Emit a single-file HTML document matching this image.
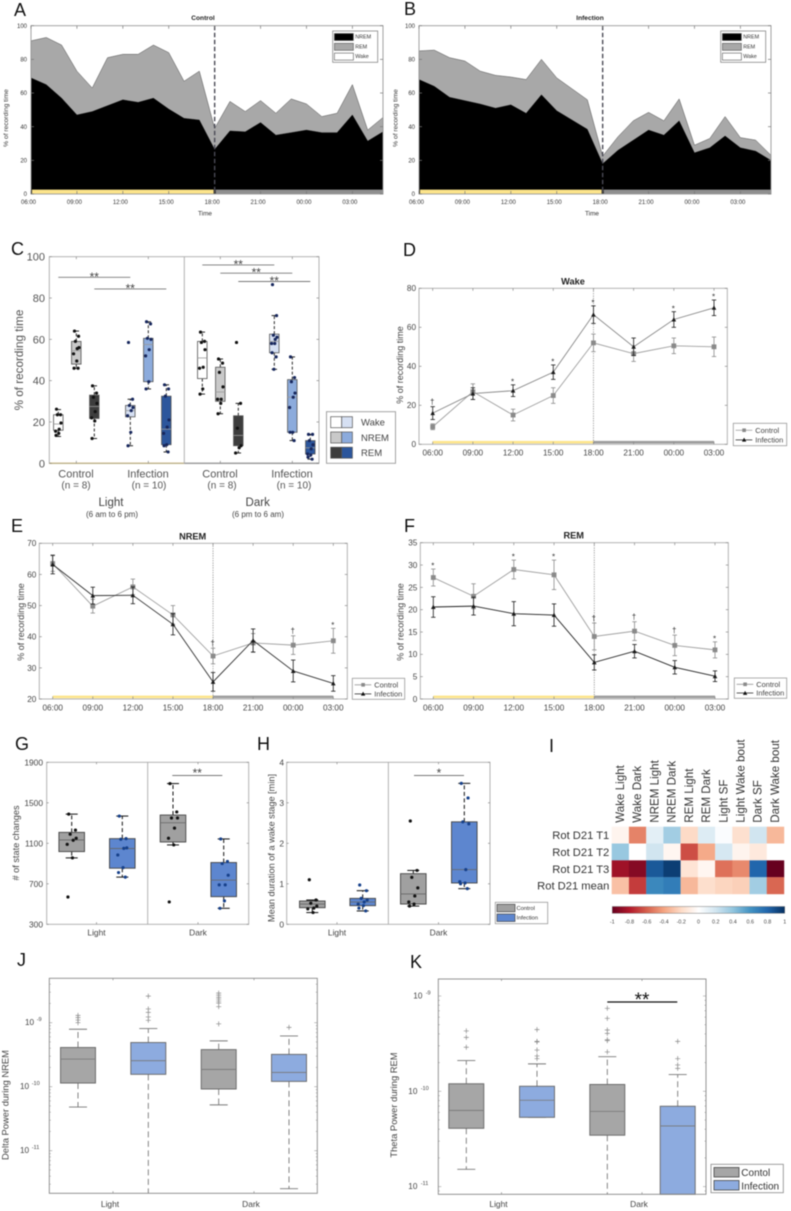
<!DOCTYPE html>
<html lang="en">
<head>
<meta charset="utf-8">
<title>Sleep state figure</title>
<style>
html,body{margin:0;padding:0;background:#fff;}
#figure{display:block;width:791px;height:1211px;filter:blur(0.5px);}
text{font-family:"Liberation Sans",Arial,sans-serif;}
.letter{font-size:18px;fill:#111;}
</style>
</head>
<body>
<svg id="figure" xmlns="http://www.w3.org/2000/svg" width="791" height="1211" viewBox="0 0 791 1211">
<rect width="791" height="1211" fill="#fff"/>
<g id="charts"></g>
<text class="letter" x="14" y="16">A</text>
<text class="letter" x="404" y="15">B</text>
<text class="letter" x="11" y="255">C</text>
<text class="letter" x="403" y="256">D</text>
<text class="letter" x="11" y="532">E</text>
<text class="letter" x="404" y="532">F</text>
<text class="letter" x="15" y="750">G</text>
<text class="letter" x="257" y="750">H</text>
<text class="letter" x="549" y="752">I</text>
<text class="letter" x="17" y="966">J</text>
<text class="letter" x="410" y="968">K</text>
</svg>
<script>
/* ---------- Panel A / B: hourly stacked areas ---------- */
const areaTickLabels = ['06:00','09:00','12:00','15:00','18:00','21:00','00:00','03:00'];
const areaYTicks = [0,20,40,60,80,100];
const aNrem = [69,65,57,47,49,52.5,56,54.5,57,50.5,45,44,26.5,37.5,37,42.5,35,36.5,38,36.5,36.5,47,31.5,37];
const aRem  = [22,28,31.5,26,14,28.5,27,28.5,31.5,33.5,22,29,12.5,17.5,12,13,13,20,15.5,9.5,11.5,18,6.5,8.5];
const bNrem = [68,64,57.5,55.5,53.5,51,53,48,59,49.5,44,38.5,18,26,32,38,35,43.5,24.5,27.5,34.5,27.5,25.5,20];
const bRem  = [17,21.5,23.5,23.5,19.5,19.5,16.5,20,21,19.5,18.5,17.5,4.5,8,11.5,10.5,8.5,13,4.5,5.5,11.5,6,6.5,3];

/* ---------- Panel C: box plots ---------- */
const cLabels = ['Light control wake','Light control NREM','Light control REM','Light infection wake','Light infection NREM','Light infection REM','Dark control wake','Dark control NREM','Dark control REM','Dark infection wake','Dark infection NREM','Dark infection REM'];
const cSlots = [0,1,2,4,5,6,8,9,10,12,13,14];
const cQ1  = [16,48,21.7,22.5,39.5,9,41,30,8.5,53.5,15,4.5];
const cMed = [19,54.5,27.5,25.5,57.5,16.5,51,34.5,13.5,59,32,7.5];
const cQ3  = [23.5,59,33,28,60.5,32.5,59,46.5,23,62.5,40.5,11];
const cLo  = [13,46,12,8.5,36,5.5,33.5,24,5,45.5,11,2];
const cHi  = [26,64,37.5,31,68.5,38,63.5,50.5,29,71.5,51.5,14];
const cPoints = [
 [26.2,23.5,23.5,19.5,16.5,15.5,14.5,13.5],
 [64,61.5,59,56,55.5,53,49.5,46,46],
 [37.5,34,32,29,25,22,20.5,12],
 [58.5,31,28,27,25.5,23,15,8.5],
 [68.5,67.5,60.5,60,55,52,39.5,36],
 [38,36,32.5,21,17.5,14.5,9,8.5,5.5],
 [63.5,59,58.5,55,46.5,46,36,33.5],
 [50.5,48.5,44,37,31,31,29,24],
 [58.5,29,17,8.5,7.5,5],
 [86.5,71.5,62,61,60,58,58,53.5,51.5,45.5],
 [51.5,41.5,39.5,34,32,27,15,15,11],
 [14,14,11,9,7,4.5,4,3,2]
];
const cYTicks = [0,20,40,60,80,100];

/* ---------- Panels D / E / F: time series ---------- */
const timeLabels = ['06:00','09:00','12:00','15:00','18:00','21:00','00:00','03:00'];
const dControl = [9,27,15,25,52,46.5,50.5,50];
const dControlErr = [1.5,4,3,4,4.5,4,4,5];
const dInfection = [16,26,27.5,37,66.5,50,64,70];
const dInfectionErr = [3.3,3,3,3.7,4.5,4.5,4,4];
const dMarks = ['†','','*','*','*','','*','*'];
const dYTicks = [0,20,40,60,80];
const eControl = [63.5,49.8,56,47,33.8,38,37.3,38.7];
const eControlErr = [2.5,2.2,2.5,3,2.5,3,3,4];
const eInfection = [63.2,53.2,53.3,44,25.5,38.8,29,25];
const eInfectionErr = [3,2.7,2.7,3.4,3,3.7,3.5,2.5];
const eMarks = ['','','','','†','','†','*'];
const eYTicks = [20,30,40,50,60,70];
const fControl = [27.2,23,29,27.8,14,15.2,12,11];
const fControlErr = [1.9,2.8,2.1,3.3,3,2.1,2.3,1.8];
const fInfection = [20.6,20.8,19.1,18.8,8.2,10.7,7.1,5.1];
const fInfectionErr = [2.3,2,2.7,2.5,1.7,1.5,1.5,1.2];
const fMarks = ['*','','*','*','†','†','†','*'];
const fYTicks = [0,5,10,15,20,25,30,35];

/* ---------- Panel G / H: box plots ---------- */
const ghCategories = ['Light','Dark'];
const gYTicks = [300,700,1100,1500,1900];
const gQ1  = [1018,854,1113,573];
const gMed = [1133,1048,1303,736];
const gQ3  = [1208,1146,1379,910];
const gLo  = [956,766,1084,458];
const gHi  = [1388,1369,1690,1143];
const gPoints = [
 [1388,1230,1190,1150,1130,1090,956,570],
 [1369,1146,1140,1055,1050,985,860,811,766],
 [1690,1410,1350,1350,1250,1150,1084,521],
 [1143,920,900,785,690,690,531,458]
];
const hYTicks = [0,1,2,3,4];
const hQ1  = [0.41,0.46,0.5,1.02];
const hMed = [0.5,0.55,0.75,1.35];
const hQ3  = [0.575,0.64,1.25,2.53];
const hLo  = [0.29,0.33,0.45,0.88];
const hHi  = [0.6,0.83,1.33,3.48];
const hPoints = [
 [1.1,0.6,0.52,0.45,0.4,0.38,0.29],
 [0.97,0.83,0.64,0.6,0.55,0.5,0.46,0.4,0.33],
 [2.55,1.33,1.16,0.9,0.7,0.55,0.5,0.45],
 [3.48,3.12,2.53,2.48,1.35,1.05,1.02,1.0,0.88]
];

/* ---------- Panel I: correlation heatmap ---------- */
const heatColumns = ['Wake Light','Wake Dark','NREM Light','NREM Dark','REM Light','REM Dark','Light SF','Light Wake bout','Dark SF','Dark Wake bout'];
const heatRows = ['Rot D21 T1','Rot D21 T2','Rot D21 T3','Rot D21 mean'];
const heatT1 = [-0.06,-0.5,0.12,0.35,-0.2,0.15,0.02,-0.17,0.2,-0.33];
const heatT2 = [0.38,0,0.2,-0.05,-0.65,-0.38,0.18,-0.06,-0.12,0];
const heatT3 = [-0.85,-0.92,0.85,0.95,-0.15,-0.05,-0.55,-0.48,0.8,-1];
const heatMean = [-0.3,-0.7,0.65,0.7,-0.33,-0.18,-0.22,-0.24,0.35,-0.58];
const colorbarTicks = [-1,-0.8,-0.6,-0.4,-0.2,0,0.2,0.4,0.6,0.8,1];

/* ---------- Panels J / K: log-scale box plots ---------- */
const logCategories = ['Light','Dark'];
const logExponents = [-9,-10,-11];
const jQ1  = [1.14e-10,1.56e-10,9.2e-11,1.21e-10];
const jMed = [2.7e-10,2.55e-10,1.86e-10,1.67e-10];
const jQ3  = [4.1e-10,4.9e-10,3.8e-10,3.2e-10];
const jLo  = [4.8e-11,2.1e-12,5.2e-11,2.55e-12];
const jHi  = [7.9e-10,8.1e-10,5.2e-10,6.2e-10];
const jOutliers = [
 [1.3e-9,1.2e-9,1.1e-9,1e-9],
 [2.6e-9,1.64e-9,1.45e-9,1.23e-9,1.09e-9],
 [2.9e-9,2.7e-9,2.5e-9,2.34e-9,2.18e-9,2.03e-9,1.78e-9,9.6e-10],
 [8.45e-10]
];
const kQ1  = [4.09e-11,5.33e-11,3.46e-11,3e-12];
const kMed = [6.3e-11,8.05e-11,6.16e-11,4.33e-11];
const kQ3  = [1.2e-10,1.13e-10,1.18e-10,6.97e-11];
const kLo  = [1.52e-11,5.33e-11,3e-12,3e-12];
const kHi  = [2.1e-10,1.94e-10,2.31e-10,1.5e-10];
const kOutliers = [
 [4.3e-10,3.68e-10,2.9e-10],
 [4.44e-10,3.34e-10,3.3e-10,2.71e-10,2.35e-10,2.2e-10],
 [7.43e-10,5.83e-10,4.4e-10,4.05e-10,3.48e-10,3.4e-10,2.59e-10],
 [3.34e-10,2.2e-10,1.89e-10,1.74e-10]
];

/* ---------- helpers ---------- */
const NS = 'http://www.w3.org/2000/svg';
const chartLayer = document.getElementById('charts');
function mk(tag, attrs, parent) {
  const e = document.createElementNS(NS, tag);
  for (const k in attrs) e.setAttribute(k, attrs[k]);
  parent.appendChild(e);
  return e;
}
function panel(name) {
  const g = mk('g', {}, chartLayer);
  
  
  return g;
}
function label(parent, name, x, y, str, size, anchor, fill, extra) {
  const t = mk('text', Object.assign({x: x, y: y, 'font-size': size, 'text-anchor': anchor || 'middle', fill: fill || '#444'}, extra || {}), parent);
  t.textContent = str;
  
  
  return t;
}
function rotLabel(parent, name, x, y, str, size, fill, anchor) {
  return label(parent, name, x, y, str, size, anchor || 'middle', fill, {transform: 'rotate(-90 ' + x + ' ' + y + ')'});
}
function seg(parent, name, x1, y1, x2, y2, stroke, width, dash) {
  const a = {x1: x1, y1: y1, x2: x2, y2: y2, stroke: stroke, 'stroke-width': width};
  if (dash) a['stroke-dasharray'] = dash;
  const l = mk('line', a, parent);
  
  
  return l;
}
function box(parent, name, x, y, w, h, fill, stroke, sw) {
  const r = mk('rect', {x: x, y: y, width: w, height: h, fill: fill, stroke: stroke || 'none', 'stroke-width': sw || 0}, parent);
  
  
  return r;
}
function frame(parent, left, top, right, bottom, color, width) {
  const r = mk('rect', {x: left, y: top, width: right - left, height: bottom - top, fill: 'none', stroke: color, 'stroke-width': width}, parent);
  
  
}
function vTicks(parent, xs, top, bottom, len, color) {
  xs.forEach(function (x) {
    seg(parent, 'x-tick-top', x, top, x, top + len, color, 0.7);
    seg(parent, 'x-tick-bottom', x, bottom, x, bottom - len, color, 0.7);
  });
}
function hTicks(parent, ys, left, right, len, color) {
  ys.forEach(function (y) {
    seg(parent, 'y-tick-left', left, y, left + len, y, color, 0.7);
    seg(parent, 'y-tick-right', right, y, right - len, y, color, 0.7);
  });
}
const JITTER = [-2, 2.5, -1, 3, 1, -3, 0.5, -2.5, 2, -0.5, 3, -1.5];

function drawBoxMark(parent, name, x, w, capW, q1, med, q3, lo, hi, yFn, bottom, st) {
  const Y = function (v) { return Math.min(yFn(v), bottom); };
  seg(parent, name + '-upper-whisker', x, Y(q3), x, Y(hi), st.whisker, st.whiskerW, st.dash);
  seg(parent, name + '-lower-whisker', x, Y(q1), x, Y(lo), st.whisker, st.whiskerW, st.dash);
  seg(parent, name + '-upper-cap', x - capW / 2, Y(hi), x + capW / 2, Y(hi), st.cap, st.capW);
  if (Y(lo) < bottom - 0.5) seg(parent, name + '-lower-cap', x - capW / 2, Y(lo), x + capW / 2, Y(lo), st.cap, st.capW);
  box(parent, name + '-box', x - w / 2, Y(q3), w, Y(q1) - Y(q3), st.fill, st.edge, st.edgeW);
  seg(parent, name + '-median', x - w / 2, Y(med), x + w / 2, Y(med), st.median, 0.8);
}
function dots(parent, name, x, values, yFn, color, spread, r) {
  values.forEach(function (v, j) {
    const c = mk('circle', {cx: x + JITTER[j % JITTER.length] * spread, cy: yFn(v), r: r, fill: color}, parent);
    
    
  });
}

/* ---------- area panels ---------- */
function drawAreaPanel(name, title, titleX, ylabelX, nrem, rem, left, right, legendLeft) {
  const g = panel(name);
  const top = 25.7, bottom = 194;
  const xScale = function (h) { return left + (right - left) * h / 23; };
  const yScale = function (v) { return bottom - (bottom - top) * v / 100; };
  let lowerPts = '', upperPts = '';
  nrem.forEach(function (n, i) {
    lowerPts += xScale(i) + ',' + yScale(n) + ' ';
    upperPts += xScale(i) + ',' + yScale(n + rem[i]) + ' ';
  });
  const revLower = lowerPts.trim().split(' ').reverse().join(' ');
  const remArea = mk('polygon', {points: upperPts + revLower, fill: '#a8a8a8', stroke: '#555', 'stroke-width': 0.5}, g);
  
  
  const nremArea = mk('polygon', {points: lowerPts + xScale(23) + ',' + bottom + ' ' + xScale(0) + ',' + bottom, fill: '#000'}, g);
  
  
  box(g, 'light-phase-bar', xScale(0) + 1, yScale(2.6), xScale(12) - xScale(0) - 2, yScale(0) - yScale(2.6), '#fde58c');
  box(g, 'dark-phase-bar', xScale(12) + 1, yScale(2.6), xScale(23) - xScale(12) - 1, yScale(0) - yScale(2.6), '#8f8f8f');
  seg(g, 'light-dark-boundary', xScale(12), top, xScale(12), bottom, '#4a4a55', 1.4, '4.5,2.5');
  frame(g, left, top, right, bottom, '#9a9a9a', 0.9);
  vTicks(g, areaTickLabels.map(function (_, i) { return xScale(i * 3); }), top, bottom, 3, '#777');
  hTicks(g, areaYTicks.map(yScale), left, right, 3, '#777');
  areaTickLabels.forEach(function (t, i) {
    label(g, 'x-tick-label', xScale(i * 3) - 2.5, 204, t, 6, 'middle', '#333');
  });
  areaYTicks.forEach(function (v) {
    label(g, 'y-tick-label', left - 4, yScale(v) + 2.2, String(v), 6, 'end', '#333');
  });
  label(g, 'x-axis-title', titleX + 2, 215.5, 'Time', 6.4, 'middle', '#333');
  rotLabel(g, 'y-axis-title', ylabelX, 118, '% of recording time', 6.7, '#333');
  label(g, 'chart-title', titleX, 20, title, 6.6, 'middle', '#222', {'font-weight': 'bold'});
  box(g, 'legend-box', legendLeft, 31, 45, 31.3, '#fff', '#888', 0.8);
  [['NREM', '#000'], ['REM', '#a8a8a8'], ['Wake', '#fff']].forEach(function (row, i) {
    const yy = 33.5 + i * 9.8;
    box(g, 'legend-swatch', legendLeft + 1.7, yy, 19, 7, row[1], '#555', 0.6);
    label(g, 'legend-entry', legendLeft + 22.5, yy + 5, row[0], 5.4, 'start', '#333');
  });
}
drawAreaPanel('panel-a-control-area', 'Control', 203, 8, aNrem, aRem, 31, 383, 332.7);
drawAreaPanel('panel-b-infection-area', 'Infection', 590, 397.5, bNrem, bRem, 419, 771, 720.7);

/* ---------- panel C ---------- */
(function () {
  const g = panel('panel-c-state-boxplots');
  const left = 49.3, right = 319, top = 256.7, bottom = 463.3;
  const xSlot = function (s) { return 58.3 + 18 * s; };
  const y = function (v) { return bottom - (bottom - top) * v / 100; };
  const fills = ['#ffffff', '#c9c9c9', '#3d3d3d', '#d6e0f3', '#8cabdc', '#2c569c'];
  cLabels.forEach(function (n, i) {
    const col = (i % 6);
    const name = n.toLowerCase().replace(/ /g, '-');
    const st = {whisker: '#111', whiskerW: 0.9, dash: '3,2', cap: '#111', capW: 0.9, fill: fills[col], edge: '#555', edgeW: 0.8, median: '#999'};
    drawBoxMark(g, name, xSlot(cSlots[i]), 9.5, 5.5, cQ1[i], cMed[i], cQ3[i], cLo[i], cHi[i], y, bottom, st);
    dots(g, name, xSlot(cSlots[i]), cPoints[i], y, col < 3 ? '#111' : '#16265c', 0.9, 1.6);
  });
  seg(g, 'light-phase-line', left, bottom, 184.3, bottom, '#e9c24a', 1.3);
  seg(g, 'dark-phase-line', 184.3, bottom, right, bottom, '#777', 1.3);
  seg(g, 'phase-divider', 184.3, top, 184.3, bottom, '#aaa', 0.9);
  frame(g, left, top, right, bottom, '#aaa', 0.9);
  vTicks(g, [xSlot(1), xSlot(5), xSlot(9), xSlot(13)], top, bottom, 2.5, '#888');
  hTicks(g, cYTicks.map(y), left, right, 2.5, '#888');
  cYTicks.forEach(function (v) {
    label(g, 'y-tick-label', 45, y(v) + 4, String(v), 11, 'end', '#555');
  });
  rotLabel(g, 'y-axis-title', 23, 360, '% of recording time', 11.7, '#555');
  [[0, 4, 90], [2, 6, 84.4], [8, 12, 96], [9, 13, 92], [10, 14, 88]].forEach(function (b) {
    seg(g, 'significance-bar', xSlot(b[0]), y(b[2]), xSlot(b[1]), y(b[2]), '#777', 0.9);
    label(g, 'significance-stars', (xSlot(b[0]) + xSlot(b[1])) / 2, y(b[2]) + 3.5, '**', 12, 'middle', '#444');
  });
  [['Control', 76, 76, '(n = 8)'], ['Infection', 148, 149, '(n = 10)'], ['Control', 220, 222, '(n = 8)'], ['Infection', 292, 294, '(n = 10)']].forEach(function (c) {
    label(g, 'group-label', c[1], 477.5, c[0], 11, 'middle', '#555');
    label(g, 'group-size-label', c[2], 488.5, c[3], 10, 'middle', '#555');
  });
  label(g, 'light-phase-label', 111, 506, 'Light', 11.5, 'middle', '#444');
  label(g, 'light-phase-hours', 112, 517, '(6 am to 6 pm)', 8, 'middle', '#444');
  label(g, 'dark-phase-label', 257.7, 506, 'Dark', 11.5, 'middle', '#444');
  label(g, 'dark-phase-hours', 258, 517, '(6 pm to 6 am)', 8, 'middle', '#444');
  box(g, 'legend-box', 326.5, 411.7, 69, 51.6, '#fff', '#999', 0.9);
  [['Wake', 0, 3, 416.7], ['NREM', 1, 4, 432], ['REM', 2, 5, 447.2]].forEach(function (row) {
    box(g, 'legend-swatch-control', 330.7, row[3], 11, 11, fills[row[1]], '#555', 0.7);
    box(g, 'legend-swatch-infection', 341.7, row[3], 10.7, 11, fills[row[2]], '#555', 0.7);
    label(g, 'legend-entry', 361, row[3] + 9, row[0], 9.5, 'start', '#444');
  });
})();

/* ---------- panels D, E, F ---------- */
function drawSeriesPanel(name, title, titleX, left, right, top, bottom, x0, x7, yMin, yMax, ticks, control, controlErr, infection, infectionErr, marks, ylabelX, ylabelY, legendL, legendR, legendT, legendB, infectionLine) {
  const g = panel(name);
  const xFn = function (i) { return x0 + (x7 - x0) * i / 7; };
  const yFn = function (v) { return bottom - (bottom - top) * (v - yMin) / (yMax - yMin); };
  box(g, 'light-phase-bar', xFn(0), bottom - 3.4, xFn(4) - xFn(0), 2.6, '#fde58c');
  box(g, 'dark-phase-bar', xFn(4), bottom - 3.4, xFn(7) - xFn(4), 2.6, '#9c9c9c');
  seg(g, 'light-dark-boundary', xFn(4), top, xFn(4), bottom, '#777', 0.7, '1.2,1.2');
  frame(g, left, top, right, bottom, '#aaa', 0.9);
  vTicks(g, timeLabels.map(function (_, i) { return xFn(i); }), top, bottom, 2.5, '#888');
  hTicks(g, ticks.map(yFn), left, right, 2.5, '#888');
  function series(vals, errs, color, lineColor, seriesName, square) {
    const pts = vals.map(function (v, i) { return xFn(i) + ',' + yFn(v); }).join(' ');
    const pl = mk('polyline', {points: pts, fill: 'none', stroke: lineColor, 'stroke-width': 0.9}, g);
    
    
    vals.forEach(function (v, i) {
      const x = xFn(i), hi = yFn(v + errs[i]), lo = yFn(v - errs[i]);
      seg(g, seriesName + '-error-bar', x, hi, x, lo, color, 0.8);
      seg(g, seriesName + '-error-cap', x - 2.2, hi, x + 2.2, hi, color, 0.8);
      seg(g, seriesName + '-error-cap', x - 2.2, lo, x + 2.2, lo, color, 0.8);
      if (square) {
        box(g, seriesName + '-marker', x - 2.4, yFn(v) - 2.4, 4.8, 4.8, color);
      } else {
        const tri = mk('polygon', {points: (x - 2.3) + ',' + (yFn(v) + 2) + ' ' + (x + 2.3) + ',' + (yFn(v) + 2) + ' ' + x + ',' + (yFn(v) - 2.4), fill: color}, g);
        
        
      }
    });
  }
  series(control, controlErr, '#8a8a8a', '#a0a0a0', 'control', true);
  series(infection, infectionErr, '#1a1a1a', infectionLine, 'infection', false);
  marks.forEach(function (m, i) {
    if (!m) return;
    const topVal = Math.max(control[i] + controlErr[i], infection[i] + infectionErr[i]);
    label(g, 'significance-mark', xFn(i) - 0.5, yFn(topVal) - (m === '*' ? 0.4 : 2.2), m, 8, 'middle', '#333');
  });
  timeLabels.forEach(function (t, i) {
    label(g, 'x-tick-label', xFn(i), bottom + 11.4, t, 8.2, 'middle', '#444');
  });
  ticks.forEach(function (v) {
    label(g, 'y-tick-label', left - 3, yFn(v) + 2.9, String(v), 8.2, 'end', '#444');
  });
  rotLabel(g, 'y-axis-title', ylabelX, ylabelY, '% of recording time', 9, '#444');
  label(g, 'chart-title', titleX, top - 4, title, 9.2, 'middle', '#222', {'font-weight': 'bold'});
  box(g, 'legend-box', legendL, legendT, legendR - legendL, legendB - legendT, '#fff', '#999', 0.8);
  const rowC = legendT + (legendB - legendT) * 0.31, rowI = legendT + (legendB - legendT) * 0.74;
  seg(g, 'legend-control-line', legendL + 2.3, rowC, legendL + 19, rowC, '#999', 0.8);
  box(g, 'legend-control-marker', legendL + 9, rowC - 1.8, 3.6, 3.6, '#8a8a8a');
  seg(g, 'legend-infection-line', legendL + 2.3, rowI, legendL + 19, rowI, '#222', 0.8);
  const lt = mk('polygon', {points: (legendL + 8.6) + ',' + (rowI + 1.8) + ' ' + (legendL + 13) + ',' + (rowI + 1.8) + ' ' + (legendL + 10.8) + ',' + (rowI - 2.2), fill: '#111'}, g);
  
  
  label(g, 'legend-entry', legendL + 22, rowC + 2.6, 'Control', 7.4, 'start', '#444');
  label(g, 'legend-entry', legendL + 22, rowI + 2.6, 'Infection', 7.4, 'start', '#444');
}
drawSeriesPanel('panel-d-wake', 'Wake', 573, 419, 727.3, 288.3, 444.3, 432.7, 714, 0, 80, dYTicks, dControl, dControlErr, dInfection, dInfectionErr, dMarks, 403, 365, 733.3, 786.7, 423.3, 445.7, '#888');
drawSeriesPanel('panel-e-nrem', 'NREM', 192.7, 39.3, 347.3, 543.3, 699, 52.7, 333.3, 20, 70, eYTicks, eControl, eControlErr, eInfection, eInfectionErr, eMarks, 24, 622, 352.3, 404.7, 678.3, 699.3, '#333');
drawSeriesPanel('panel-f-rem', 'REM', 573.7, 420.3, 728.3, 542.7, 699, 433.3, 715, 0, 35, fYTicks, fControl, fControlErr, fInfection, fInfectionErr, fMarks, 403.5, 622, 734.3, 786.7, 678, 698.3, '#222');

/* ---------- panels G, H ---------- */
function drawFourBox(name, left, right, centers, yMin, yMax, ticks, q1, med, q3, lo, hi, points, ylabel, ylabelX, ylabelY, tickX, stars, sigL, sigR, catX) {
  const g = panel(name);
  const top = 762.3, bottom = 924.3;
  const y = function (v) { return bottom - (bottom - top) * (v - yMin) / (yMax - yMin); };
  const mid = (left + right) / 2;
  const fills = ['#a0a0a0', '#5d86cf', '#a0a0a0', '#5d86cf'];
  const dotCols = ['#111', '#16408a', '#111', '#16408a'];
  q1.forEach(function (_, i) {
    const st = {whisker: '#111', whiskerW: 1, dash: '4,2.5', cap: '#111', capW: 1, fill: fills[i], edge: '#444', edgeW: 0.9, median: '#666'};
    const bn = (i < 2 ? 'light-' : 'dark-') + (i % 2 ? 'infection' : 'control');
    drawBoxMark(g, bn, centers[i], 25.6, 12, q1[i], med[i], q3[i], lo[i], hi[i], y, bottom, st);
    dots(g, bn, centers[i], points[i], y, dotCols[i], 1.5, 1.6);
  });
  seg(g, 'phase-divider', mid, top, mid, bottom, '#aaa', 0.9);
  frame(g, left, top, right, bottom, '#aaa', 0.9);
  vTicks(g, catX, top, bottom, 2, '#888');
  hTicks(g, ticks.map(y), left, right, 2, '#888');
  ticks.forEach(function (v) {
    label(g, 'y-tick-label', tickX, y(v) + 3, String(v), 8.4, 'end', '#444');
  });
  ghCategories.forEach(function (c, i) {
    label(g, 'x-category-label', catX[i], 935.7, c, 8.4, 'middle', '#444');
  });
  rotLabel(g, 'y-axis-title', ylabelX, ylabelY, ylabel, 9.2, '#444');
  seg(g, 'significance-bar', sigL, 775.5, sigR, 775.5, '#777', 0.9);
  label(g, 'significance-stars', (sigL + sigR) / 2, 777, stars, 12, 'middle', '#444');
}
drawFourBox('panel-g-state-changes', 46.7, 248.7, [71.7, 122.3, 173, 223.7], 300, 1900, gYTicks, gQ1, gMed, gQ3, gLo, gHi, gPoints, '# of state changes', 19, 843, 43, '**', 172.3, 222.3, [96.5, 198]);
drawFourBox('panel-h-wake-duration', 286.7, 490, [312.3, 362.7, 413.3, 464.3], 0, 4, hYTicks, hQ1, hMed, hQ3, hLo, hHi, hPoints, 'Mean duration of a wake stage [min]', 274.5, 848, 284, '*', 414, 464, [337, 438.5]);
(function () {
  const g = panel('panel-gh-legend');
  box(g, 'legend-box', 495.3, 902.3, 52.4, 21.4, '#fff', '#999', 0.8);
  box(g, 'legend-swatch-control', 497, 904.3, 18, 7.5, '#a0a0a0', '#444', 0.7);
  box(g, 'legend-swatch-infection', 497, 914, 18, 7.5, '#5d86cf', '#444', 0.7);
  label(g, 'legend-entry', 516.5, 909.8, 'Control', 5.7, 'start', '#333');
  label(g, 'legend-entry', 516.5, 919.5, 'Infection', 5.7, 'start', '#333');
})();

/* ---------- panel I ---------- */
(function () {
  const g = panel('panel-i-heatmap');
  const stops = [[-1,[103,0,31]],[-0.8,[178,24,43]],[-0.6,[214,96,77]],[-0.4,[244,165,130]],[-0.2,[253,219,199]],[0,[255,255,255]],[0.2,[209,229,240]],[0.4,[146,197,222]],[0.6,[67,147,195]],[0.8,[33,102,172]],[1,[5,48,97]]];
  function colorFor(v) {
    const c = Math.max(-1, Math.min(1, v));
    for (let i = 0; i < stops.length - 1; i++) {
      if (c <= stops[i + 1][0]) {
        const t = (c - stops[i][0]) / (stops[i + 1][0] - stops[i][0]);
        const rgb = stops[i][1].map(function (a, k) { return Math.round(a + (stops[i + 1][1][k] - a) * t); });
        return 'rgb(' + rgb.join(',') + ')';
      }
    }
    return 'rgb(5,48,97)';
  }
  const left = 611.7, right = 784, top = 826.7, bottom = 894;
  const cw = (right - left) / heatColumns.length;
  const rh = (bottom - top) / heatRows.length;
  const xCol = function (i) { return left + i * cw; };
  const yRow = function (i) { return top + i * rh; };
  [heatT1, heatT2, heatT3, heatMean].forEach(function (row, r) {
    row.forEach(function (v, c) {
      box(g, 'heatmap-cell', xCol(c), yRow(r), cw + 0.2, rh + 0.2, colorFor(v));
    });
  });
  heatColumns.forEach(function (n, i) {
    rotLabel(g, 'column-label', xCol(i) + cw / 2 + 3.6, 822.7, n, 11.6, '#333', 'start');
  });
  heatRows.forEach(function (n, i) {
    label(g, 'row-label', 609.3, yRow(i) + rh / 2 + 4, n, 11.2, 'end', '#333');
  });
  const defs = mk('defs', {}, g);
  const grad = mk('linearGradient', {id: 'rdbu', x1: 0, x2: 1, y1: 0, y2: 0}, defs);
  stops.forEach(function (s) {
    mk('stop', {offset: ((s[0] + 1) / 2), 'stop-color': 'rgb(' + s[1].join(',') + ')'}, grad);
  });
  box(g, 'colorbar', 612.3, 906.5, 172.4, 6.8, 'url(#rdbu)', '#777', 0.5);
  colorbarTicks.forEach(function (v) {
    label(g, 'colorbar-tick-label', 612.3 + (v + 1) / 2 * 172.4, 923.5, String(v), 5.4, 'middle', '#444');
  });
})();

/* ---------- panels J, K ---------- */
function drawLogPanel(name, left, right, top, bottom, centers, yAt9, decade, q1, med, q3, lo, hi, outliers, ylabel, ylabelX, catX, supX, numX) {
  const g = panel(name);
  const y = function (v) { return yAt9 + (-9 - Math.log10(v)) * decade; };
  const fills = ['#a6a6a6', '#8dabdf', '#a6a6a6', '#8dabdf'];
  q1.forEach(function (_, i) {
    const st = {whisker: '#777', whiskerW: 0.9, dash: '6,3.5', cap: '#777', capW: 0.9, fill: fills[i], edge: '#666', edgeW: 0.9, median: '#777'};
    const bn = (i < 2 ? 'light-' : 'dark-') + (i % 2 ? 'infection' : 'control');
    drawBoxMark(g, bn, centers[i], 35, 18, q1[i], med[i], q3[i], lo[i], hi[i], y, bottom, st);
    outliers[i].forEach(function (v) {
      const yy = y(v), x = centers[i];
      const p = mk('path', {d: 'M' + (x - 2.5) + ' ' + yy + 'H' + (x + 2.5) + 'M' + x + ' ' + (yy - 2.5) + 'V' + (yy + 2.5), stroke: '#888', 'stroke-width': 0.7, fill: 'none'}, g);
      
      
    });
  });
  frame(g, left, top, right, bottom, '#888', 0.9);
  vTicks(g, catX, top, bottom, 2, '#888');
  for (let d = -12; d <= -8; d++) {
    for (let m = 1; m < 10; m++) {
      const yy = y(m * Math.pow(10, d));
      if (yy <= top || yy >= bottom) continue;
      seg(g, m === 1 ? 'major-y-tick' : 'minor-y-tick', left, yy, left + (m === 1 ? 3 : 1.5), yy, '#888', 0.5);
      seg(g, m === 1 ? 'major-y-tick' : 'minor-y-tick', right, yy, right - (m === 1 ? 3 : 1.5), yy, '#888', 0.5);
    }
  }
  logExponents.forEach(function (e) {
    const shift = e === -9 ? 0 : 5;
    label(g, 'y-tick-base', numX - shift, y(Math.pow(10, e)) + 2.5, '10', 8.2, 'start', '#444');
    label(g, 'y-tick-exponent', supX - shift, y(Math.pow(10, e)) - 1.5, String(e), 5.6, 'start', '#444');
  });
  logCategories.forEach(function (c, i) {
    label(g, 'x-category-label', catX[i] - 3, 1207, c, 8.4, 'middle', '#444');
  });
  rotLabel(g, 'y-axis-title', ylabelX, 1105, ylabel, 9.4, '#444');
  return {g: g, y: y};
}
drawLogPanel('panel-j-delta-power', 49.3, 317.3, 978.3, 1193.3, [78, 148.3, 218.7, 289], 1022.7, 64, jQ1, jMed, jQ3, jLo, jHi, jOutliers, 'Delta Power during NREM', 8.5, [113, 254], 36.7, 25);
(function () {
  const k = drawLogPanel('panel-k-theta-power', 438.3, 706, 979, 1194.3, [466.3, 537, 607.3, 677.7], 996, 95.3, kQ1, kMed, kQ3, kLo, kHi, kOutliers, 'Theta Power during REM', 397, [501.5, 642], 425.7, 413.3);
  seg(k.g, 'significance-bar', 607.3, 1002, 677.3, 1002, '#111', 1.3);
  label(k.g, 'significance-stars', 642, 1006, '**', 19, 'middle', '#111');
  box(k.g, 'legend-box', 711, 1164.3, 72.3, 28.4, '#fff', '#888', 0.8);
  box(k.g, 'legend-swatch-control', 714, 1167.5, 25, 9.5, '#a6a6a6', '#444', 0.8);
  box(k.g, 'legend-swatch-infection', 714, 1180.5, 25, 9.5, '#8dabdf', '#444', 0.8);
  label(k.g, 'legend-entry', 741.3, 1176, 'Contol', 10, 'start', '#333');
  label(k.g, 'legend-entry', 741.3, 1189.3, 'Infection', 10, 'start', '#333');
})();
</script>
</body>
</html>
